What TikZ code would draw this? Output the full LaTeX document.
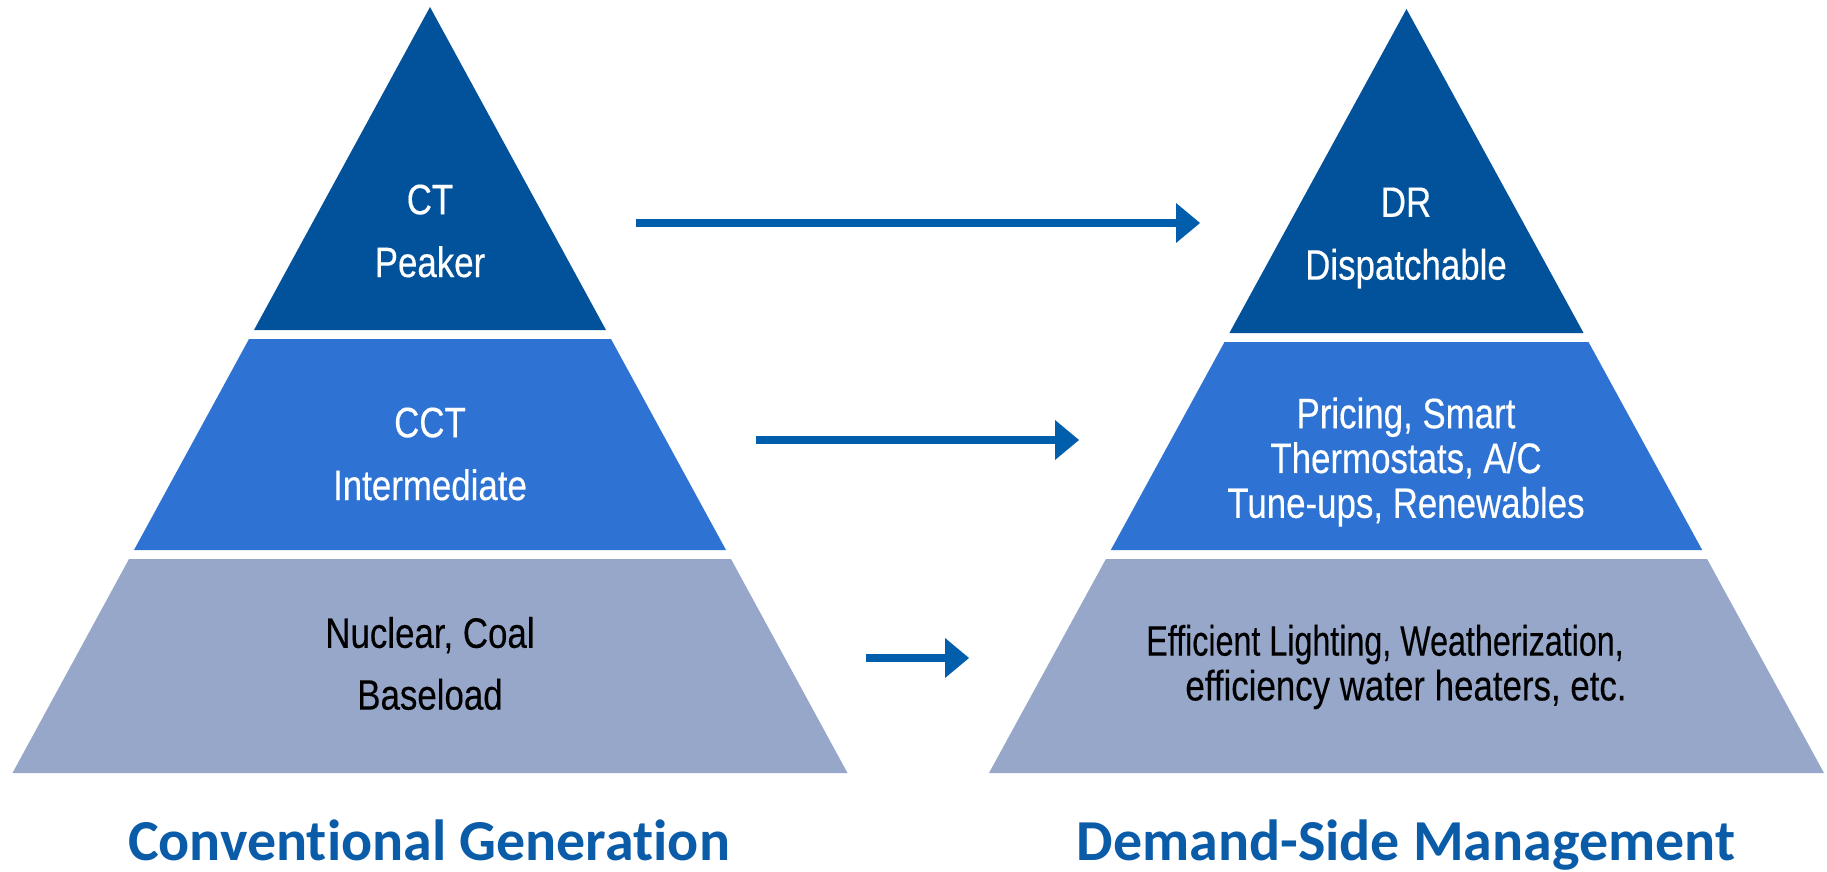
\documentclass[tikz,border=0pt]{standalone}
\usepackage{fontspec}
\setmainfont{Liberation Sans}[FakeStretch=0.82, FakeBold=0.3]
\newfontfamily\headfont{Carlito}[Ligatures=NoCommon]
\usetikzlibrary{arrows.meta}

\definecolor{peakblue}{HTML}{02529B}
\definecolor{midblue}{HTML}{2E73D3}
\definecolor{baseblue}{HTML}{96A7C9}
\definecolor{arrowblue}{HTML}{005EAC}
\definecolor{headblue}{HTML}{0A5CA8}

\begin{document}
\begin{tikzpicture}[x=0.02cm, y=-0.02cm,
  tier/.style={font=\fontsize{24.2}{25.5}\selectfont, align=center},
  heading/.style={font=\headfont\bfseries\fontsize{33}{36}\selectfont, text=headblue, anchor=base},
  tierarrow/.style={draw=arrowblue, line width=0.16cm,
    -{Triangle[length=0.48cm, width=0.8cm, line width=0pt]}}]
\useasboundingbox (0,0) rectangle (1827,872);

% conventional generation
\fill[peakblue] (430,7) -- (606,330) -- (254,330) -- cycle;
\fill[midblue] (249,339) -- (611,339) -- (726,550) -- (134,550) -- cycle;
\fill[baseblue] (129,559) -- (731,559) -- (847.5,773) -- (12.5,773) -- cycle;

% demand-side management
\fill[peakblue] (1406.5,9) -- (1583.6,333) -- (1229.4,333) -- cycle;
\fill[midblue] (1224.5,342) -- (1588.5,342) -- (1702.2,550) -- (1110.8,550) -- cycle;
\fill[baseblue] (1105.9,559) -- (1707.1,559) -- (1824,773) -- (989,773) -- cycle;

% labels
\node[tier, text=white] (ct) at (430,231) {CT\\[0.36cm]Peaker};
\node[tier, text=white] (cct) at (430,454) {CCT\\[0.36cm]Intermediate};
\node[tier] (coal) at (430,663.5) {Nuclear, Coal\\[0.34cm]Baseload};
\node[tier, text=white] (dr) at (1406,238) {DR\\[0.36cm]Dispatchable};
\node[tier, text=white] (pricing) at (1406,462) {Pricing, Smart\\Thermostats, A/C\\Tune-ups, Renewables};
\node[tier] (lighting) at (1406,667) {\scalebox{0.925}[1]{Efficient Lighting, Weatherization,}\hspace*{0.84cm}\\efficiency water heaters, etc.};

\node[heading] (conv) at (429,860) {Conventional Generation};
\node[heading] (dsm) at (1406,860) {Demand-Side Management};

% arrows between the tiers
\coordinate (peak-from) at (636,223);
\coordinate (peak-to) at (1200,223);
\coordinate (mid-from) at (756,440);
\coordinate (mid-to) at (1079,440);
\coordinate (base-from) at (866,658);
\coordinate (base-to) at (969,658);
\draw[tierarrow] (peak-from) -- (peak-to);
\draw[tierarrow] (mid-from) -- (mid-to);
\draw[tierarrow] (base-from) -- (base-to);
\end{tikzpicture}
\end{document}
